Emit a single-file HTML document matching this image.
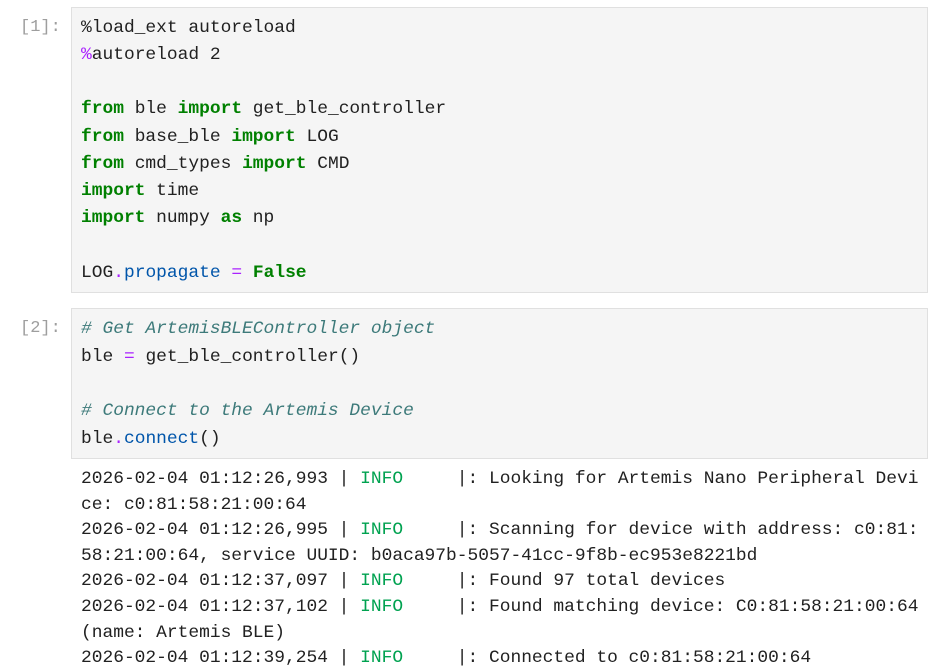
<!DOCTYPE html>
<html><head><meta charset="utf-8"><style>
body{margin:0;width:929px;height:668px;background:#fff;position:relative;overflow:hidden;font-family:"Liberation Mono",monospace;}
.box{position:absolute;left:71px;width:855px;background:#f5f5f5;border:1px solid #e0e0e0;}
.p{position:absolute;left:20px;color:#9e9e9e;font-size:17px;}
.l{position:absolute;left:81px;font-size:17.9px;white-space:pre;color:#212121;line-height:20px;}
.o{font-size:17.9px;}
.k{color:#008000;font-weight:bold}
.m{color:#aa22ff}
.c{color:#3d7a7a;font-style:italic}
.a{color:#0055aa}
.g{color:#00a250}
</style></head><body>
<div class="box" style="top:7px;height:284px"></div>
<div class="box" style="top:308px;height:149px"></div>
<div class="p" style="top:18px">[1]:</div>
<div class="p" style="top:319px">[2]:</div>
<div class="l" style="top:18px">%load_ext autoreload</div>
<div class="l" style="top:45px"><span class="m">%</span>autoreload 2</div>
<div class="l" style="top:99px"><span class="k">from</span> ble <span class="k">import</span> get_ble_controller</div>
<div class="l" style="top:127px"><span class="k">from</span> base_ble <span class="k">import</span> LOG</div>
<div class="l" style="top:154px"><span class="k">from</span> cmd_types <span class="k">import</span> CMD</div>
<div class="l" style="top:181px"><span class="k">import</span> time</div>
<div class="l" style="top:208px"><span class="k">import</span> numpy <span class="k">as</span> np</div>
<div class="l" style="top:263px">LOG<span class="m">.</span><span class="a">propagate</span> <span class="m">=</span> <span class="k">False</span></div>
<div class="l" style="top:319px"><span class="c"># Get ArtemisBLEController object</span></div>
<div class="l" style="top:347px">ble <span class="m">=</span> get_ble_controller()</div>
<div class="l" style="top:401px"><span class="c"># Connect to the Artemis Device</span></div>
<div class="l" style="top:429px">ble<span class="m">.</span><span class="a">connect</span>()</div>
<div class="l o" style="top:469px">2026-02-04 01:12:26,993 | <span class="g">INFO</span>     |: Looking for Artemis Nano Peripheral Devi</div>
<div class="l o" style="top:495px">ce: c0:81:58:21:00:64</div>
<div class="l o" style="top:520px">2026-02-04 01:12:26,995 | <span class="g">INFO</span>     |: Scanning for device with address: c0:81:</div>
<div class="l o" style="top:546px">58:21:00:64, service UUID: b0aca97b-5057-41cc-9f8b-ec953e8221bd</div>
<div class="l o" style="top:571px">2026-02-04 01:12:37,097 | <span class="g">INFO</span>     |: Found 97 total devices</div>
<div class="l o" style="top:597px">2026-02-04 01:12:37,102 | <span class="g">INFO</span>     |: Found matching device: C0:81:58:21:00:64</div>
<div class="l o" style="top:623px">(name: Artemis BLE)</div>
<div class="l o" style="top:648px">2026-02-04 01:12:39,254 | <span class="g">INFO</span>     |: Connected to c0:81:58:21:00:64</div>
</body></html>
